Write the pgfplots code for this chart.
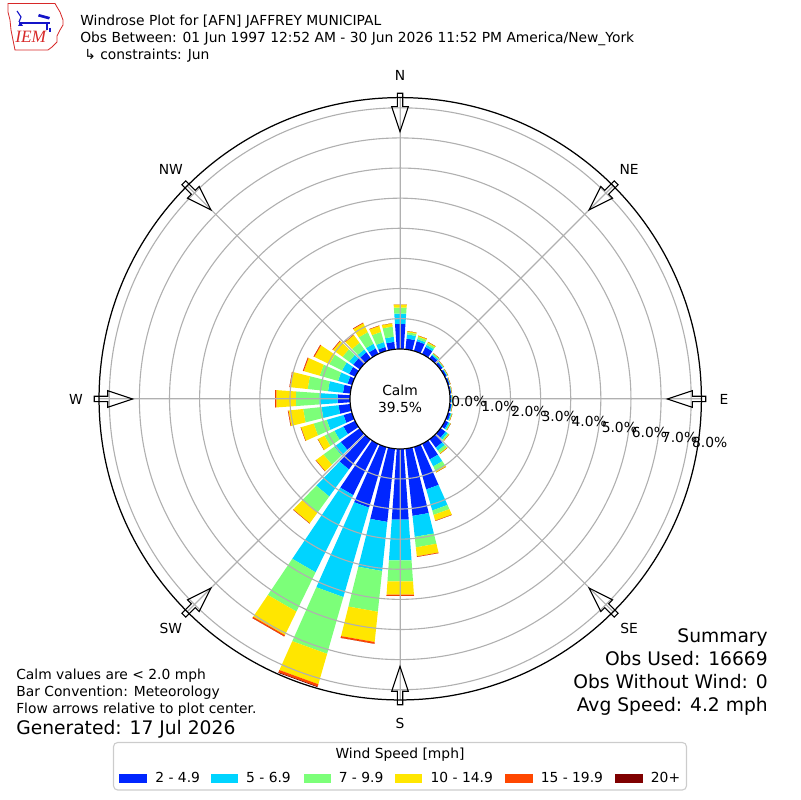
\documentclass[border=0pt]{standalone}
\usepackage{fontspec}
\setmainfont{DejaVu Sans}
\newfontfamily\serifit{Liberation Serif}
\usepackage{pgfplots}
\usepgfplotslibrary{polar}
\pgfplotsset{compat=1.18}
\usepackage{pgfplotstable}

\definecolor{wsA}{RGB}{0,38,255}
\definecolor{wsB}{RGB}{0,212,255}
\definecolor{wsC}{RGB}{124,255,121}
\definecolor{wsD}{RGB}{255,230,0}
\definecolor{wsE}{RGB}{255,71,0}
\definecolor{wsF}{RGB}{127,0,0}
\definecolor{gridgray}{HTML}{B0B0B0}
\definecolor{iemred}{RGB}{215,40,40}
\definecolor{iemblue}{RGB}{20,20,200}

% percent of observations per direction (rows) and speed class (b1..b6)
\pgfplotstableread{
dir b1 b2 b3 b4 b5 b6
10 0.35 0.14 0.07 0.04 0 0
20 0.33 0.07 0.08 0.04 0 0
30 0.25 0.08 0.07 0.04 0 0
40 0.12 0.04 0.04 0.01 0 0
50 0.08 0.03 0.02 0.01 0 0
60 0.06 0.02 0.02 0.01 0 0
70 0.05 0.01 0.01 0.01 0 0
80 0.04 0.01 0.01 0.01 0 0
90 0.04 0.02 0.01 0.01 0 0
100 0.05 0.02 0.01 0.01 0 0
110 0.08 0.03 0.02 0.01 0 0
120 0.12 0.05 0.03 0.01 0 0
130 0.20 0.08 0.05 0.02 0 0
140 0.35 0.12 0.10 0.03 0 0
150 0.58 0.26 0.18 0.04 0 0
160 1.47 0.73 0.15 0.20 0.01 0
170 2.25 0.70 0.35 0.30 0.02 0
180 2.36 1.36 0.70 0.44 0.04 0
190 2.45 1.64 1.36 1.01 0.06 0
200 2.10 3.09 1.96 1.05 0.08 0.02
210 1.90 2.85 1.45 0.87 0.05 0
220 1.24 1.11 0.65 0.45 0.01 0
230 0.78 0.27 0.44 0.31 0.01 0
240 0.44 0.33 0.37 0.25 0 0
250 0.30 0.58 0.45 0.44 0.01 0
260 0.40 0.57 0.61 0.49 0.02 0
270 0.42 0.61 0.78 0.65 0.04 0
280 0.25 0.50 0.68 0.59 0.02 0
290 0.16 0.33 0.63 0.55 0.03 0
300 0.23 0.26 0.47 0.55 0.03 0
310 0.27 0.17 0.27 0.39 0.02 0
320 0.25 0.12 0.27 0.32 0.01 0
330 0.20 0.17 0.43 0.33 0.02 0
340 0.13 0.17 0.35 0.21 0.01 0
350 0.24 0.17 0.34 0.11 0 0
360 0.83 0.34 0.20 0.10 0 0
}\windtable

% cumulative tops of the stacked classes
\pgfplotstablecreatecol[create col/expr={0}]{c0}\windtable
\pgfplotstablecreatecol[create col/expr={\thisrow{b1}}]{c1}\windtable
\pgfplotstablecreatecol[create col/expr={\thisrow{c1}+\thisrow{b2}}]{c2}\windtable
\pgfplotstablecreatecol[create col/expr={\thisrow{c2}+\thisrow{b3}}]{c3}\windtable
\pgfplotstablecreatecol[create col/expr={\thisrow{c3}+\thisrow{b4}}]{c4}\windtable
\pgfplotstablecreatecol[create col/expr={\thisrow{c4}+\thisrow{b5}}]{c5}\windtable
\pgfplotstablecreatecol[create col/expr={\thisrow{c5}+\thisrow{b6}}]{c6}\windtable

\newcommand\calmoff{1.661}% radius of the calm circle in percent units
\newcommand\halfw{4}%
\pgfplotstablegetrowsof{\windtable}%
\pgfmathtruncatemacro\lastrow{\pgfplotsretval-1}%
\def\buildband#1#2#3{%
  \gdef#3{}%
  \foreach \i in {0,...,\lastrow}{%
    \pgfplotstablegetelem{\i}{dir}\of\windtable
    \pgfmathsetmacro\aone{90-\pgfplotsretval-\halfw}%
    \pgfmathsetmacro\atwo{90-\pgfplotsretval+\halfw}%
    \pgfplotstablegetelem{\i}{#1}\of\windtable
    \pgfmathsetmacro\Rlo{\pgfplotsretval+\calmoff}%
    \pgfplotstablegetelem{\i}{#2}\of\windtable
    \pgfmathsetmacro\Rhi{\pgfplotsretval+\calmoff}%
    \xdef#3{#3 (\aone,\Rlo) (\aone,\Rhi) (\atwo,\Rhi) (\atwo,\Rlo) (\atwo,nan)}%
  }%
}
\buildband{c0}{c1}\bandA
\buildband{c1}{c2}\bandB
\buildband{c2}{c3}\bandC
\buildband{c3}{c4}\bandD
\buildband{c4}{c5}\bandE
\buildband{c5}{c6}\bandF

\newcommand\fsA{\fontsize{10}{12}\selectfont}
\newcommand\fsB{\fontsize{13.5}{16}\selectfont}

\begin{document}
\begin{tikzpicture}[x=0.01in,y=0.01in]
\path[use as bounding box] (0,0) rectangle (800,800);

\begin{polaraxis}[
  at={(4in,4.01in)}, anchor=center,
  scale only axis, width=6.02in, height=6.02in,
  xmin=0, xmax=360, ymin=0, ymax=10,
  xtick={0,45,90,135,180,225,270,315},
  ytick={2.661,3.661,4.661,5.661,6.661,7.661,8.661,9.661},
  xticklabels={}, yticklabels={},
  grid=major,
  major grid style={draw=gridgray, line width=0.8pt},
  separate axis lines,
  x axis line style={draw=black, line width=0.9pt},
  y axis line style={draw=none},
  major tick length=0pt,
  axis on top,
  clip=false,
  unbounded coords=jump,
]
\edef\doplots{%
  \noexpand\addplot[draw=none, fill=wsA] coordinates {\bandA};
  \noexpand\addplot[draw=none, fill=wsB] coordinates {\bandB};
  \noexpand\addplot[draw=none, fill=wsC] coordinates {\bandC};
  \noexpand\addplot[draw=none, fill=wsD] coordinates {\bandD};
  \noexpand\addplot[draw=none, fill=wsE] coordinates {\bandE};
  \noexpand\addplot[draw=none, fill=wsF] coordinates {\bandF};
}\doplots
\end{polaraxis}

% calm circle
\draw[black, line width=0.8pt, fill=white] (400,401) circle (50);
\node[anchor=base, font=\fsA] at (400,404) {Calm};
\node[anchor=base, font=\fsA] at (400,387) {39.5\%};

% radial labels
\foreach \i in {0,...,8} {
  \node[anchor=west, inner sep=0pt, font=\fsA] at ({451+30.1*\i}, {800-(401.5+5.1*\i)}) {\i.0\%};
}

% flow arrows
\foreach \a in {0,45,...,315} {
  \begin{scope}[shift={(400,401)}, rotate=\a]
    \draw[black, line width=0.8pt, line join=miter] (305.7,2.7) -- (292.3,2.7) -- (292.3,8.3) -- (267.3,0) -- (292.3,-8.3) -- (292.3,-2.7) -- (305.7,-2.7) -- cycle;
  \end{scope}
}

% compass labels
\foreach \a/\t in {90/N,45/NE,0/E,-45/SE,-90/S,-135/SW,180/W,135/NW} {
  \node[font=\fsA] at ([shift={(\a:324)}]400,401) {\t};
}

% logo
\draw[iemred, line width=0.6pt] (8,796.5) -- (55,796.5) -- (57,793) -- (60,788) -- (63,780) -- (63,775) -- (60,770) -- (57,764) -- (57,758) -- (52,753) -- (48,750) -- (15,750) -- (13,760) -- (11,770) -- (10,780) -- (8,788) -- cycle;
\draw[iemblue, line width=1.3pt] (19,777.3) -- (50,777.3);
\fill[iemblue] (39,786) -- (50,783) -- (49,780.5) -- (38,783.5) -- cycle;
\draw[iemblue, line width=0.8pt] (17,789) -- (21,783) -- (19,778);
\fill[iemblue] (18,774) -- (23,774) -- (20.5,778) -- cycle;
\draw[iemblue, line width=0.8pt] (47,777) -- (47,770) (50,772) -- (50,768);
\node[anchor=base west, inner sep=0pt, text=iemred, font=\serifit\itshape\fontsize{12.5}{12.5}\selectfont] at (15,757) {IEM};

% titles
\node[anchor=base west, inner sep=0pt, font=\fsA] at (80,774) {Windrose Plot for [AFN] JAFFREY MUNICIPAL};
\node[anchor=base west, inner sep=0pt, font=\fsA] at (80,757) {Obs Between: 01 Jun 1997 12:52 AM - 30 Jun 2026 11:52 PM America/New\_York};
\node[anchor=base west, inner sep=0pt, font=\fsA] at (84,740.5) {↳ constraints: Jun};

% bottom left notes
\node[anchor=base west, inner sep=0pt, font=\fsA] at (16,120) {Calm values are < 2.0 mph};
\node[anchor=base west, inner sep=0pt, font=\fsA] at (16,103) {Bar Convention: Meteorology};
\node[anchor=base west, inner sep=0pt, font=\fsA] at (16,86) {Flow arrows relative to plot center.};
\node[anchor=base west, inner sep=0pt, font=\fsB] at (16,65) {Generated: 17 Jul 2026};

% summary
\node[anchor=base east, inner sep=0pt, font=\fsB] at (768,157) {Summary};
\node[anchor=base east, inner sep=0pt, font=\fsB] at (768,134) {Obs Used: 16669};
\node[anchor=base east, inner sep=0pt, font=\fsB] at (768,111) {Obs Without Wind: 0};
\node[anchor=base east, inner sep=0pt, font=\fsB] at (768,88) {Avg Speed: 4.2 mph};

% legend
\draw[draw=black!20, line width=0.8pt, rounded corners=3] (113.5,57.5) rectangle (686.5,10);
\node[anchor=base, inner sep=0pt, font=\fsA] at (400,41) {Wind Speed [mph]};
\foreach \c/\xa/\xb/\t in {wsA/119.3/147.1/{2 - 4.9}, wsB/210.8/237.9/{5 - 6.9}, wsC/303.5/330.5/{7 - 9.9}, wsD/395.4/422.4/{10 - 14.9}, wsE/504.7/532.5/{15 - 19.9}, wsF/614.8/642.6/{20+}} {
  \fill[\c] (\xa,17) rectangle (\xb,26);
  \node[anchor=base west, inner sep=0pt, font=\fsA] at (\xb+8,17) {\t};
}
\end{tikzpicture}
\end{document}
